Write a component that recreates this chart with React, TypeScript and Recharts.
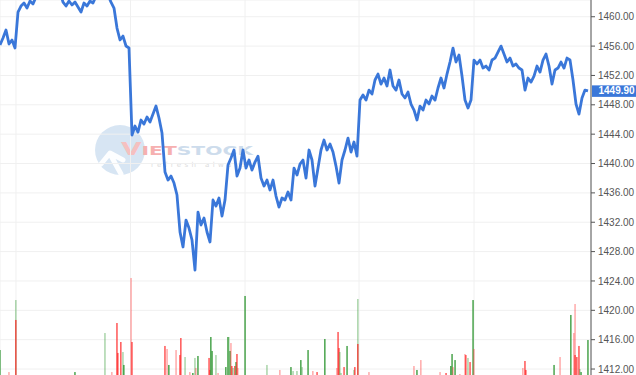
import React from "react";
import { ComposedChart, Line, Bar, XAxis, YAxis, CartesianGrid, ReferenceLine } from "recharts";

// Intraday index price, sampled uniformly (step index)
const PRICE: number[] = [
  1456.15, 1457.1, 1458.19, 1456.28, 1456.83, 1455.74, 1460.64, 1461.46, 1461.87, 1461.18,
  1462.14, 1461.73, 1462.7, 1463.2, 1464.0, 1463.5, 1464.3, 1463.8, 1464.6, 1463.9,
  1463.4, 1462.0, 1461.46, 1462.14, 1461.6, 1462.0, 1461.32, 1460.64, 1461.87, 1461.46,
  1462.14, 1461.87, 1462.8, 1463.3, 1463.8, 1463.5, 1462.9, 1462.0, 1461.18, 1458.46,
  1456.83, 1457.37, 1456.01, 1455.74, 1443.88, 1445.11, 1444.29, 1445.93, 1445.38, 1446.33,
  1445.66, 1446.74, 1447.83, 1446.2, 1444.15, 1438.84, 1437.75, 1438.3, 1437.34, 1435.71,
  1430.67, 1428.63, 1432.3, 1431.21, 1429.58, 1425.49, 1433.39, 1431.62, 1432.57, 1430.67,
  1429.31, 1435.03, 1434.21, 1435.3, 1432.84, 1435.03, 1439.79, 1440.75, 1441.84, 1438.3,
  1439.38, 1441.84, 1439.38, 1440.48, 1439.11, 1440.2, 1441.0, 1438.02, 1436.93, 1437.75,
  1436.39, 1437.75, 1435.57, 1434.07, 1435.3, 1435.03, 1436.12, 1435.03, 1439.38, 1438.43,
  1439.93, 1440.48, 1438.02, 1441.84, 1440.48, 1436.93, 1439.38, 1441.84, 1443.2, 1441.84,
  1442.66, 1441.57, 1439.65, 1437.34, 1440.48, 1441.84, 1443.47, 1441.57, 1442.93, 1441.0,
  1448.65, 1449.33, 1448.65, 1450.01, 1449.47, 1451.38, 1452.19, 1450.83, 1451.65, 1450.56,
  1452.74, 1450.56, 1450.01, 1451.38, 1449.47, 1448.93, 1449.74, 1448.11, 1447.29, 1445.93,
  1447.83, 1447.29, 1448.65, 1448.11, 1449.2, 1448.65, 1450.29, 1451.65, 1450.29, 1452.19,
  1453.83, 1455.73, 1453.83, 1454.78, 1451.92, 1448.65, 1447.56, 1448.65, 1454.1, 1453.56,
  1454.1, 1453.01, 1453.28, 1452.74, 1454.1, 1454.37, 1455.19, 1456.0, 1454.92, 1453.83,
  1454.37, 1453.28, 1453.56, 1453.01, 1452.74, 1450.01, 1451.65, 1451.1, 1451.92, 1453.28,
  1452.46, 1454.1, 1454.92, 1453.28, 1450.83, 1452.74, 1453.01, 1453.83, 1453.01, 1454.37,
  1454.1, 1451.38, 1448.11, 1446.74, 1448.93, 1450.01, 1449.9,
];

// Volume prints: time (same step units), volume, side (G buy, g buy light, R sell, r sell light)
const VOL_T: number[] = [
  0, 3, 5.3, 5.3, 25, 35, 37.3, 39, 39.3, 40.3, 41, 41.3, 43.7, 44, 55, 55.7, 56.3, 58.7, 60, 60.3,
  61.7, 63.3, 64.3, 65, 65.3, 66, 69.7, 70, 70.3, 70.7, 72, 72.7, 75.3, 76, 76.3, 76.7, 77, 77.3,
  77.7, 78.3, 78.7, 79, 79.3, 81.7, 89, 93.3, 97, 97.7, 99, 100.3, 100.7, 102.7, 104.3, 105.7,
  108.3, 112.3, 112.7, 113, 113.3, 113.7, 114.7, 115.7, 118, 118.3, 119.3, 119.3, 123, 138, 139,
  140.3, 146.7, 148.7, 150.3, 150.7, 151, 151.7, 153.3, 155, 155.3, 156, 156.7, 157.7, 158,
  174.3, 175, 175.3, 184.7, 186.7, 190.3, 191.3, 191.7, 191.7, 192.3, 193, 193.3, 193.7, 196,
];
const VOL: number[] = [
  296, 63, 825, 614, 63, 476, 63, 582, 265, 381, 275, 138, 1058, 381, 339, 307, 138, 296, 243, 423,
  222, 63, 53, 212, 106, 233, 212, 85, 434, 286, 243, 53, 116, 434, 434, 286, 370, 127,
  106, 127, 169, 254, 106, 868, 138, 85, 116, 74, 74, 190, 116, 296, 74, 63,
  413, 106, 487, 317, 275, 53, 116, 339, 85, 116, 836, 360, 63, 127, 85,
  190, 63, 53, 127, 254, 116, 190, 42, 254, 243, 212, 169, 825, 307,
  106, 180, 85, 138, 222, 667, 476, 783, 243, 222, 339, 95, 63, 402,
];
const VOL_SIDE: string[] = [
  "G", "r", "g", "R", "G", "g", "r", "R", "R", "R", "g", "G", "r", "R", "R", "r", "G", "r", "R", "R",
  "g", "r", "G", "g", "r", "G", "R", "R", "G", "G", "g", "r", "G", "G", "g", "G", "r", "R",
  "g", "R", "G", "R", "r", "G", "g", "r", "G", "g", "g", "G", "g", "G", "r", "R",
  "G", "r", "R", "R", "g", "g", "R", "G", "g", "R", "g", "R", "r", "r", "G",
  "r", "r", "R", "G", "G", "r", "G", "r", "r", "R", "g", "R", "G", "r",
  "r", "R", "R", "G", "r", "G", "r", "r", "R", "R", "R", "g", "G", "G",
];

const PRICE_TICKS: number[] = [1412, 1416, 1420, 1424, 1428, 1432, 1436, 1440, 1444, 1448, 1452, 1456, 1460];
const GRID_TIMES: number[] = [5.33, 43.5, 81.67, 119.67, 158];
const LAST_PRICE = 1449.9;
const PRICE_MIN = 1410.78;
const PRICE_MAX = 1462.28;
const T_MAX = 197;
const VOL_MAX = 4000;

const SIDE_COLORS: Record<string, string> = {
  G: "#2f9632",
  g: "rgba(60,160,60,0.5)",
  R: "rgba(255,40,40,0.9)",
  r: "rgba(255,60,60,0.5)",
};

const rows: any[] = [];
PRICE.forEach((p, i) => rows.push({ t: i, price: p }));
VOL_T.forEach((t, k) => rows.push({ t, vol: VOL[k], side: VOL_SIDE[k] }));
rows.sort((a, b) => a.t - b.t);

const BLUE = "#3a77d9";

const VolShape = (props: any) => {
  const { x, width, y, height, payload } = props;
  if (payload == null || payload.vol == null || !isFinite(y) || !isFinite(height)) return null;
  const cx = x + (width || 0) / 2;
  return <rect x={cx - 0.65} y={y} width={1.3} height={Math.max(height, 0)} fill={SIDE_COLORS[payload.side]} />;
};

const LastLabel = (props: any) => {
  const vb = props.viewBox || {};
  const x0 = vb.x + vb.width + 1;
  const yc = vb.y;
  return (
    <g>
      <rect x={x0} y={yc - 5.5} width={46} height={11.5} fill={BLUE} />
      <text x={x0 + 6.5} y={yc} dy="0.36em" fill="#fff" fontSize={10} fontWeight="bold" fontFamily="'Liberation Sans', Arial, sans-serif">
        {LAST_PRICE.toFixed(2)}
      </text>
    </g>
  );
};

const Watermark = () => (
  <svg width={636} height={375} style={{ position: "absolute", left: 0, top: 0 }}>
    <circle cx={120} cy={150} r={25} fill="#c6daee" opacity={0.7} />
    <path d="M101 164 L110 153 L123 160 M110 154 L121 174" stroke="#ffffff" strokeWidth={5} fill="none" strokeLinecap="round" strokeLinejoin="round" opacity={0.95} />
    <text x={121} y={155} fontFamily="'DejaVu Sans', sans-serif" fontWeight="bold" fontSize={13} textLength={132} lengthAdjust="spacingAndGlyphs">
      <tspan fill="#f5c0c0" fontSize={17}>V</tspan>
      <tspan fill="#f6b0b0">IET</tspan>
      <tspan fill="#cddcec">STOCK</tspan>
    </text>
    <text x={151} y={167} fontFamily="'DejaVu Sans', sans-serif" fontSize={7} fill="#dcdcdc" textLength={95} lengthAdjust="spacing">
      refresh always
    </text>
  </svg>
);

export default function App() {
  return (
    <div style={{ position: "absolute", left: 0, top: 0, width: 636, height: 375, overflow: "hidden", background: "#fff" }}>
      <Watermark />
      <div style={{ position: "absolute", left: 0, top: 0 }}>
        <ComposedChart width={636} height={378} data={rows} margin={{ top: 0, right: 0, bottom: 0, left: 0 }}>
          <XAxis dataKey="t" type="number" domain={[0, T_MAX]} ticks={GRID_TIMES} hide allowDataOverflow />
          <YAxis
            yAxisId="p"
            orientation="right"
            width={45}
            domain={[PRICE_MIN, PRICE_MAX]}
            ticks={PRICE_TICKS}
            allowDataOverflow
            interval={0}
            tickFormatter={(v: number) => v.toFixed(2)}
            tick={{ fill: "#555", fontSize: 10, fontFamily: "'Liberation Sans', Arial, sans-serif" }}
            tickSize={4}
            tickMargin={3}
            axisLine={{ stroke: "#555" }}
            tickLine={{ stroke: "#555" }}
          />
          <YAxis yAxisId="v" hide domain={[0, VOL_MAX]} allowDataOverflow />
          <CartesianGrid yAxisId="p" stroke="#f0f0f0" strokeWidth={1} />
          <Bar yAxisId="v" dataKey="vol" barSize={1} shape={<VolShape />} isAnimationActive={false} />
          <Line
            yAxisId="p"
            dataKey="price"
            type="linear"
            stroke={BLUE}
            strokeWidth={2.8}
            strokeLinejoin="round"
            dot={false}
            activeDot={false}
            connectNulls
            isAnimationActive={false}
          />
          <ReferenceLine yAxisId="p" y={LAST_PRICE} stroke="none" label={<LastLabel />} />
        </ComposedChart>
      </div>
    </div>
  );
}
